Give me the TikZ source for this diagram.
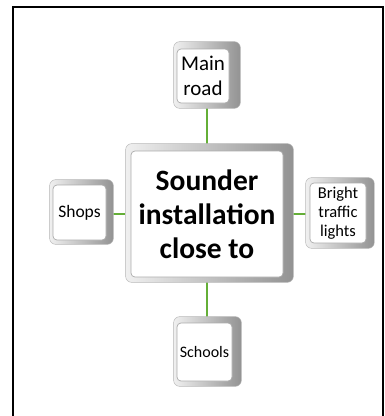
\documentclass[tikz,border=0pt]{standalone}
\usepackage{fontspec}
\setmainfont{Carlito}
\usetikzlibrary{backgrounds}
\definecolor{linkgreen}{RGB}{100,175,55}
\tikzset{
  face/.style={draw=gray!65, line width=0.7pt, fill=white, rounded corners=4pt,
    inner sep=0pt, align=center, text=black},
  bevel/.style={draw=gray!55, line width=0.5pt, rounded corners=6pt,
    left color=gray!12, right color=gray!85},
  link/.style={draw=linkgreen, line width=1.1pt},
  frame/.style={draw=black, line width=1.3pt}
}
\newcommand{\bevbox}[5]{%
  \path[bevel] ([shift={(-#2,-#3)}]#1.north west) rectangle ([shift={(#4,#5)}]#1.south east);}
\begin{document}
\begin{tikzpicture}[x=1pt,y=-1pt]
\useasboundingbox (0,0) rectangle (385,416);
\draw[frame] (13,430) -- (13,7) -- (383,7) -- (383,430);

\node[face, minimum width=152pt, minimum height=126pt,
  font=\fontsize{29.5}{34}\selectfont\bfseries] (center) at (207,214)
  {Sounder\\installation\\close to};
\node[face, minimum width=52pt, minimum height=54pt,
  font=\fontsize{21}{25}\selectfont] (main) at (203,76) {Main\\road};
\node[face, minimum width=53pt, minimum height=55pt,
  font=\fontsize{17.5}{20}\selectfont] (shops) at (79.5,212.5) {Shops};
\node[face, minimum width=56pt, minimum height=60pt,
  font=\fontsize{16.5}{19}\selectfont] (bright) at (338,213) {Bright\\traffic\\lights};
\node[face, minimum width=55pt, minimum height=58pt,
  font=\fontsize{16}{18}\selectfont] (schools) at (204.5,352) {Schools};

\begin{scope}[on background layer]
  \draw[link] (center.north) -- (center.north |- main.south);
  \draw[link] (center.south) -- (center.south |- schools.north);
  \draw[link] (center.west) -- (shops.east |- center.west);
  \draw[link] (center.east) -- (bright.west |- center.east);
  \bevbox{center}{5}{7}{10}{5}
  \bevbox{main}{3}{7}{11}{5}
  \bevbox{shops}{3}{5}{7}{4}
  \bevbox{bright}{4}{5}{8}{5}
  \bevbox{schools}{3}{6}{9}{5}
\end{scope}
\end{tikzpicture}
\end{document}
